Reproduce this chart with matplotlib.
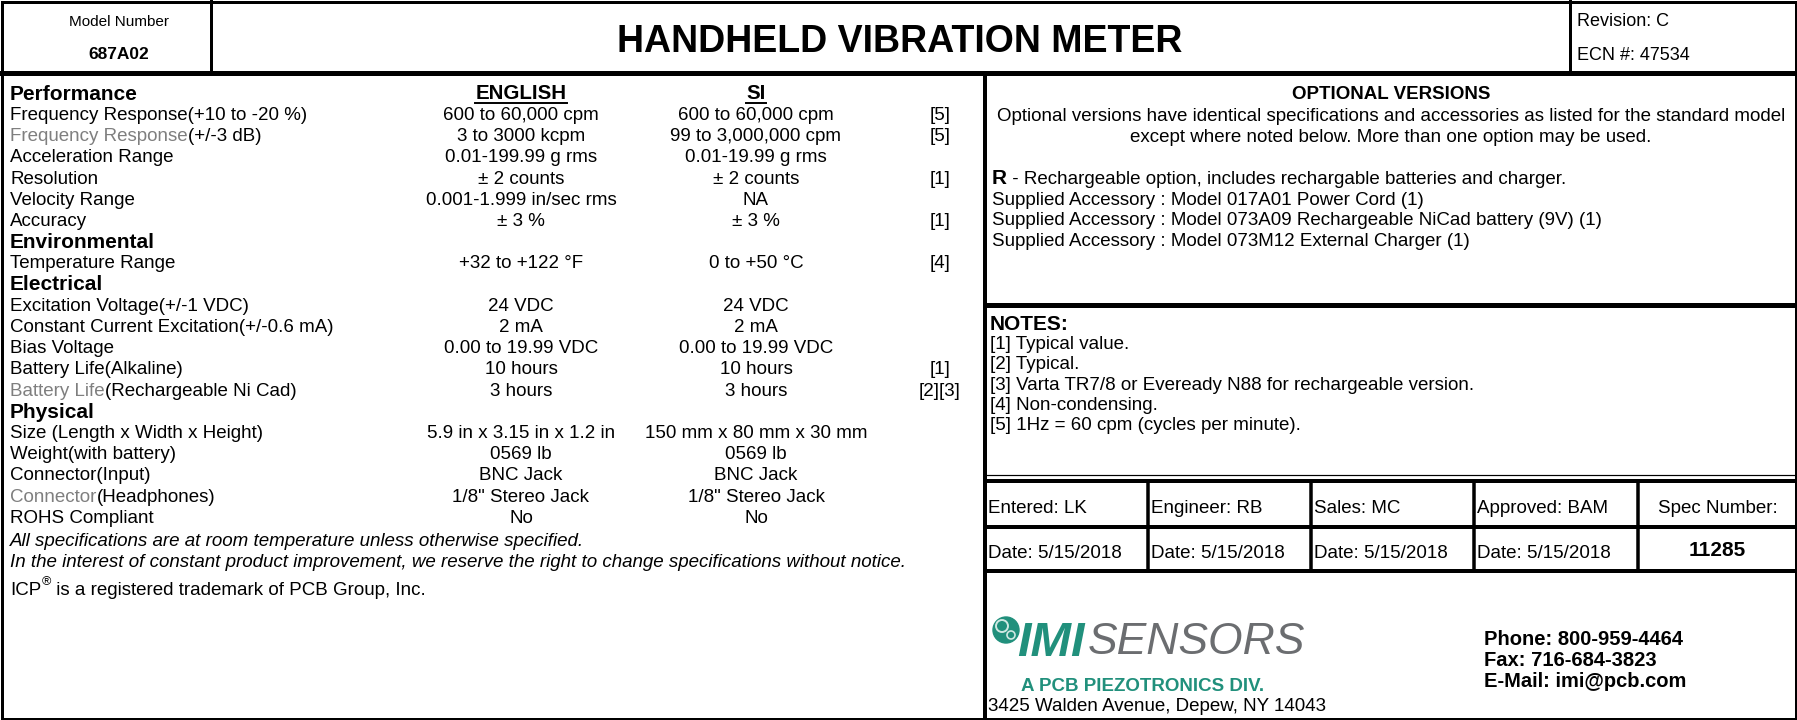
import matplotlib
matplotlib.use('Agg')
import matplotlib.pyplot as plt
from matplotlib.patches import Circle

plt.rcParams['font.family'] = ['Liberation Sans', 'DejaVu Sans']

# ---------------- data ----------------
model_label = "Model Number"
model_number = "687A02"
title = "HANDHELD VIBRATION METER"
revision = "Revision: C"
ecn = "ECN #: 47534"
column_headers = ["ENGLISH", "SI"]

section_names = ["Performance", "Environmental", "Electrical", "Physical"]
spec_section = [0, 0, 0, 0, 0, 0, 1, 2, 2, 2, 2, 2, 3, 3, 3, 3, 3]
spec_gray = ["", "Frequency Response", "", "", "", "", "", "", "", "", "",
             "Battery Life", "", "", "", "Connector", ""]
spec_label = ["Frequency Response(+10 to -20 %)", "(+/-3 dB)", "Acceleration Range",
              "Resolution", "Velocity Range", "Accuracy", "Temperature Range",
              "Excitation Voltage(+/-1 VDC)", "Constant Current Excitation(+/-0.6 mA)",
              "Bias Voltage", "Battery Life(Alkaline)", "(Rechargeable Ni Cad)",
              "Size (Length x Width x Height)", "Weight(with battery)",
              "Connector(Input)", "(Headphones)", "ROHS Compliant"]
spec_english = ["600 to 60,000 cpm", "3 to 3000 kcpm", "0.01-199.99 g rms", "\u00b1 2 counts",
                "0.001-1.999 in/sec rms", "\u00b1 3 %", "+32 to +122 \u00b0F", "24 VDC", "2 mA",
                "0.00 to 19.99 VDC", "10 hours", "3 hours", "5.9 in x 3.15 in x 1.2 in",
                "0569 lb", "BNC Jack", "1/8\" Stereo Jack", "No"]
spec_si = ["600 to 60,000 cpm", "99 to 3,000,000 cpm", "0.01-19.99 g rms", "\u00b1 2 counts",
           "NA", "\u00b1 3 %", "0 to +50 \u00b0C", "24 VDC", "2 mA", "0.00 to 19.99 VDC",
           "10 hours", "3 hours", "150 mm x 80 mm x 30 mm", "0569 lb", "BNC Jack",
           "1/8\" Stereo Jack", "No"]
spec_note = ["[5]", "[5]", "", "[1]", "", "[1]", "[4]", "", "", "", "[1]", "[2][3]",
             "", "", "", "", ""]

footer_italic = ["All specifications are at room temperature unless otherwise specified.",
                 "In the interest of constant product improvement, we reserve the right to change specifications without notice."]
trademark = ["ICP", "\u00ae", " is a registered trademark of PCB Group, Inc."]

optional_title = "OPTIONAL VERSIONS"
optional_intro = ["Optional versions have identical specifications and accessories as listed for the standard model",
                  "except where noted below. More than one option may be used."]
option_code = "R"
option_desc = " - Rechargeable option, includes rechargable batteries and charger."
option_accessories = ["Supplied Accessory : Model 017A01 Power Cord (1)",
                      "Supplied Accessory : Model 073A09 Rechargeable NiCad battery (9V) (1)",
                      "Supplied Accessory : Model 073M12 External Charger (1)"]

notes_title = "NOTES:"
notes = ["[1] Typical value.", "[2] Typical.",
         "[3] Varta TR7/8 or Eveready N88 for rechargeable version.",
         "[4] Non-condensing.", "[5] 1Hz = 60 cpm (cycles per minute)."]

sign_roles = ["Entered: LK", "Engineer: RB", "Sales: MC", "Approved: BAM"]
sign_dates = ["Date: 5/15/2018", "Date: 5/15/2018", "Date: 5/15/2018", "Date: 5/15/2018"]
spec_number_label = "Spec Number:"
spec_number = "11285"

logo_words = ["IMI", "SENSORS"]
logo_sub = "A PCB PIEZOTRONICS DIV."
address = "3425 Walden Avenue, Depew, NY 14043"
contacts = ["Phone: 800-959-4464", "Fax: 716-684-3823", "E-Mail: imi@pcb.com"]

# ---------------- figure ----------------
W, H, DPI = 1797, 720, 100
fig = plt.figure(figsize=(W / DPI, H / DPI), dpi=DPI)
ax = fig.add_axes([0, 0, 1, 1])
ax.set_xlim(0, W)
ax.set_ylim(H, 0)
ax.axis('off')

GRAY = '#7f7f7f'
TEAL = '#21907c'
BODY = 13.5


def bl(y, size):
    # baseline from visual centre of capitals
    return y + 0.36 * size * DPI / 72.0


def txt(x, y, s, size=BODY, weight='normal', ha='left', color='black', style='normal'):
    return ax.text(x, bl(y, size), s, fontsize=size, fontweight=weight, ha=ha,
                   va='baseline', color=color, fontstyle=style)


def after(prev, y, s, size=BODY, weight='normal', color='black', style='normal', dy=0.0, dx=0.0):
    return ax.annotate(s, xy=(1, bl(y, size) + dy), xycoords=(prev, 'data'), fontsize=size,
                       fontweight=weight, ha='left', va='baseline', color=color,
                       fontstyle=style, annotation_clip=False,
                       xytext=(dx, 0), textcoords='offset pixels')


def line(x0, x1, y0, y1, px):
    ax.plot([x0, x1], [y0, y1], color='black', lw=px * 72.0 / DPI, solid_capstyle='projecting')


# ---- frame lines ----
HB = 73
line(1.5, W - 1.5, 1.5, 1.5, 3)
line(1.5, W - 1.5, H - 1.5, H - 1.5, 3)
line(1.5, 1.5, 1.5, H - 1.5, 3)
line(W - 1.5, W - 1.5, 1.5, H - 1.5, 3)
line(0, W, HB, HB, 5)
line(211, 211, 0, HB, 3)
line(1570, 1570, 0, HB, 3)
line(985, 985, HB, H, 4)
line(985, W, 305, 305, 5)
line(985, W, 475, 475, 1.2)
line(985, W, 481, 481, 4)
line(985, W, 527, 527, 4)
line(985, W, 571, 571, 4)
col_edges = [985, 1148, 1311, 1474, 1638, W]
for xe in col_edges[1:-1]:
    line(xe, xe, 481, 571, 3.5)

# ---- header ----
txt(119, 20, model_label, size=11, ha='center')
txt(119, 53, model_number, size=12.5, weight='bold', ha='center')
txt(900, 38, title, size=27, weight='bold', ha='center')
txt(1577, 19, revision, size=13)
txt(1577, 53, ecn, size=13)

# ---- left panel ----
LX, EX, SX, NX = 10, 521, 756, 940
row0, step = 92, 21.2
row = 0
cur = -1
hdr_texts = []
for i in range(len(spec_label)):
    if spec_section[i] != cur:
        cur = spec_section[i]
        y = row0 + step * row
        txt(LX, y, section_names[cur], size=15, weight='bold')
        if cur == 0:
            hdr_texts.append(txt(EX, y, column_headers[0], size=14.8, weight='bold', ha='center'))
            hdr_texts.append(txt(SX, y, column_headers[1], size=14.8, weight='bold', ha='center'))
        row += 1
    y = row0 + step * row
    if spec_gray[i]:
        g = txt(LX, y, spec_gray[i], color=GRAY)
        after(g, y, spec_label[i])
    else:
        txt(LX, y, spec_label[i])
    txt(EX, y, spec_english[i], ha='center')
    txt(SX, y, spec_si[i], ha='center')
    if spec_note[i]:
        txt(NX, y, spec_note[i], ha='center')
    row += 1

y = row0 + step * row
for k, s in enumerate(footer_italic):
    txt(LX, y + 2 + 21 * k, s, style='italic')
ty = y + 51
t1 = txt(LX, ty, trademark[0])
t2 = after(t1, ty, trademark[1], size=9, dy=-8)
after(t2, ty, trademark[2])

# underline column headers
fig.canvas.draw()
inv = ax.transData.inverted()
for t in hdr_texts:
    bb = t.get_window_extent()
    (x0, _), (x1, _) = inv.transform([[bb.x0, bb.y0], [bb.x1, bb.y1]])
    ax.plot([x0, x1], [row0 + 10.5, row0 + 10.5], color='black', lw=1.4)

# ---- right panel: optional versions ----
RC = (985 + W) / 2
RX = 992
txt(RC, 92, optional_title, size=13.5, weight='bold', ha='center')
for k, s in enumerate(optional_intro):
    txt(RC, 114 + 21 * k, s, ha='center')
r = txt(RX, 177, option_code, size=15, weight='bold')
after(r, 177, option_desc)
for k, s in enumerate(option_accessories):
    txt(RX, 198 + 20.5 * k, s)

# notes
txt(990, 322, notes_title, size=15, weight='bold')
for k, s in enumerate(notes):
    txt(990, 342 + 20.4 * k, s)

# sign-off table
for k in range(4):
    txt(col_edges[k] + 3, 506, sign_roles[k])
    txt(col_edges[k] + 3, 551, sign_dates[k])
SPC = (col_edges[4] + col_edges[5]) / 2
txt(SPC, 506, spec_number_label, ha='center')
txt(SPC, 549, spec_number, size=15, weight='bold', ha='center')

# logo
ax.add_patch(Circle((1006, 630), 13, color=TEAL, zorder=3))
ax.add_patch(Circle((1002, 626), 6, fill=False, ec='#cfe8e2', lw=1.4, zorder=4))
ax.add_patch(Circle((1011, 635), 4, fill=False, ec='#cfe8e2', lw=1.2, zorder=4))
lg = txt(1017, 638, logo_words[0], size=35, weight='bold', color=TEAL, style='italic')
after(lg, 638, logo_words[1], size=32, color='#6b6d70', style='italic', dx=3)
txt(1143, 684, logo_sub, size=13.5, weight='bold', ha='center', color=TEAL)
txt(988, 704, address)

# contacts
for k, s in enumerate(contacts):
    txt(1484, 638 + 21 * k, s, size=14.5, weight='bold')

fig.savefig('out.png', dpi=DPI)
